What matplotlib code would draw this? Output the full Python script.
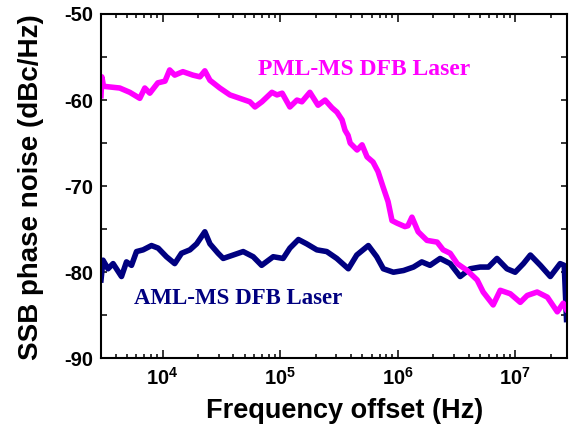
import numpy as np
import matplotlib
matplotlib.use("Agg")
import matplotlib.pyplot as plt
import matplotlib.ticker as ticker

# PML-MS DFB laser, offset frequency (Hz) and SSB phase noise (dBc/Hz)
pml_freq = [3.0e3, 3.05e3, 3.15e3, 4.33e3, 5.27e3, 6.41e3, 7.07e3, 7.80e3, 9.12e3,
            1.05e4, 1.15e4, 1.27e4, 1.49e4, 1.81e4, 2.08e4, 2.29e4, 2.53e4, 3.07e4,
            3.74e4, 4.55e4, 5.53e4, 6.11e4, 7.00e4, 8.51e4, 9.40e4, 1.04e5, 1.21e5,
            1.39e5, 1.53e5, 1.79e5, 2.10e5, 2.41e5, 2.76e5, 3.04e5, 3.36e5, 3.56e5,
            3.78e5, 3.94e5, 4.51e5, 4.97e5, 5.48e5, 6.16e5, 6.79e5, 7.50e5, 8.27e5,
            8.93e5, 9.86e5, 1.15e6, 1.22e6, 1.32e6, 1.49e6, 1.77e6, 2.16e6, 2.43e6,
            2.79e6, 3.20e6, 3.89e6, 4.73e6, 5.32e6, 6.47e6, 7.43e6, 9.04e6, 1.10e7,
            1.26e7, 1.53e7, 1.87e7, 2.27e7, 2.55e7, 2.71e7]
pml_noise = [-59.5, -57.3, -58.4, -58.6, -59.1, -59.8, -58.6, -59.2, -58.0,
             -57.8, -56.5, -57.1, -56.7, -57.1, -57.3, -56.6, -57.7, -58.6,
             -59.4, -59.8, -60.2, -60.8, -60.2, -59.1, -59.4, -59.2, -60.8,
             -60.0, -60.2, -59.1, -60.6, -60.0, -60.9, -61.4, -62.3, -63.5,
             -64.1, -65.0, -65.8, -65.2, -66.6, -67.2, -68.3, -70.1, -71.8,
             -74.0, -74.3, -74.7, -74.6, -73.6, -75.3, -76.3, -76.5, -77.4,
             -77.8, -79.0, -79.8, -80.9, -82.3, -83.8, -82.1, -82.5, -83.5,
             -82.7, -82.3, -82.9, -84.6, -83.6, -84.3]

# AML-MS DFB laser
aml_freq = [3.0e3, 3.12e3, 3.44e3, 3.80e3, 4.48e3, 4.94e3, 5.45e3, 6.01e3, 6.84e3,
            8.06e3, 9.18e3, 1.08e4, 1.27e4, 1.45e4, 1.71e4, 1.95e4, 2.29e4, 2.53e4,
            2.97e4, 3.28e4, 3.99e4, 4.85e4, 5.90e4, 6.96e4, 8.73e4, 1.06e5, 1.21e5,
            1.43e5, 1.68e5, 2.05e5, 2.49e5, 3.03e5, 3.80e5, 4.48e5, 5.62e5, 6.62e5,
            7.54e5, 9.18e5, 1.12e6, 1.36e6, 1.60e6, 1.88e6, 2.29e6, 2.79e6, 3.39e6,
            4.12e6, 5.01e6, 5.90e6, 6.97e6, 8.47e6, 9.95e6, 1.17e7, 1.34e7, 1.63e7,
            1.98e7, 2.40e7, 2.60e7, 2.72e7]
aml_noise = [-80.9, -78.6, -79.6, -79.0, -80.5, -78.8, -79.2, -77.6, -77.4,
             -76.9, -77.2, -78.2, -79.0, -77.8, -77.4, -76.7, -75.3, -76.7,
             -77.8, -78.4, -78.0, -77.6, -78.2, -79.2, -78.2, -78.4, -77.2,
             -76.2, -76.7, -77.4, -77.6, -78.4, -79.6, -78.0, -76.9, -78.2,
             -79.6, -80.0, -79.8, -79.4, -78.8, -79.2, -78.4, -79.0, -80.5,
             -79.6, -79.4, -79.4, -78.4, -79.6, -80.0, -79.0, -78.0, -79.2,
             -80.5, -79.0, -79.2, -85.5]

x_limits = (3.0e3, 2.73e7)
y_limits = (-90, -50)
y_ticks = [-90, -80, -70, -60, -50]


if __name__ == "__main__":
    plt.rcParams["font.family"] = ["Liberation Sans", "DejaVu Sans"]
    plt.rcParams["mathtext.fontset"] = "custom"
    plt.rcParams["mathtext.rm"] = "Liberation Sans:bold"
    plt.rcParams["mathtext.bf"] = "Liberation Sans:bold"

    fig = plt.figure(figsize=(5.71, 4.32), dpi=100)
    ax = fig.add_axes([0.1769, 0.1706, 0.8156, 0.797])

    ax.plot(aml_freq, aml_noise, color="#000080", lw=4, solid_joinstyle="round")
    ax.plot(pml_freq, pml_noise, color="#ff00ff", lw=4, solid_joinstyle="round")

    ax.set_xscale("log")
    ax.set_xlim(*x_limits)
    ax.set_ylim(*y_limits)

    ax.xaxis.set_major_locator(ticker.LogLocator(base=10, numticks=20))
    ax.xaxis.set_minor_locator(ticker.LogLocator(base=10, subs=np.arange(2, 10), numticks=20))
    ax.xaxis.set_major_formatter(ticker.FuncFormatter(
        lambda v, p: r"$\mathbf{10^{%d}}$" % round(np.log10(v))))
    ax.xaxis.set_minor_formatter(ticker.NullFormatter())

    ax.set_yticks(y_ticks)
    ax.set_yticklabels([str(t) for t in y_ticks])
    ax.yaxis.set_minor_locator(ticker.MultipleLocator(5))

    ax.tick_params(which="both", direction="in", top=True, right=True, width=1.1)
    ax.tick_params(axis="x", which="major", length=5.5, labelsize=14.5, pad=6)
    ax.tick_params(axis="x", which="minor", length=3)
    ax.tick_params(axis="y", which="both", length=4.5, pad=5.5)
    ax.tick_params(axis="y", which="major", labelsize=14.5)
    for lab in ax.get_yticklabels():
        lab.set_fontweight("bold")
    for sp in ax.spines.values():
        sp.set_linewidth(1.5)

    ax.set_xlabel("Frequency offset (Hz)", fontsize=19.5, fontweight="bold")
    ax.xaxis.set_label_coords(0.523, -0.115)
    ax.set_ylabel("SSB phase noise (dBc/Hz)", fontsize=20, fontweight="bold")
    ax.yaxis.set_label_coords(-0.122, 0.497)

    ax.text(5.17e5, -56.5, "PML-MS DFB Laser", color="#ff00ff", fontsize=17,
            fontweight="bold", family="Liberation Serif", ha="center", va="center")
    ax.text(4.37e4, -83.0, "AML-MS DFB Laser", color="#000080", fontsize=16.5,
            fontweight="bold", family="Liberation Serif", ha="center", va="center")

    fig.savefig("out.png", dpi=100)
